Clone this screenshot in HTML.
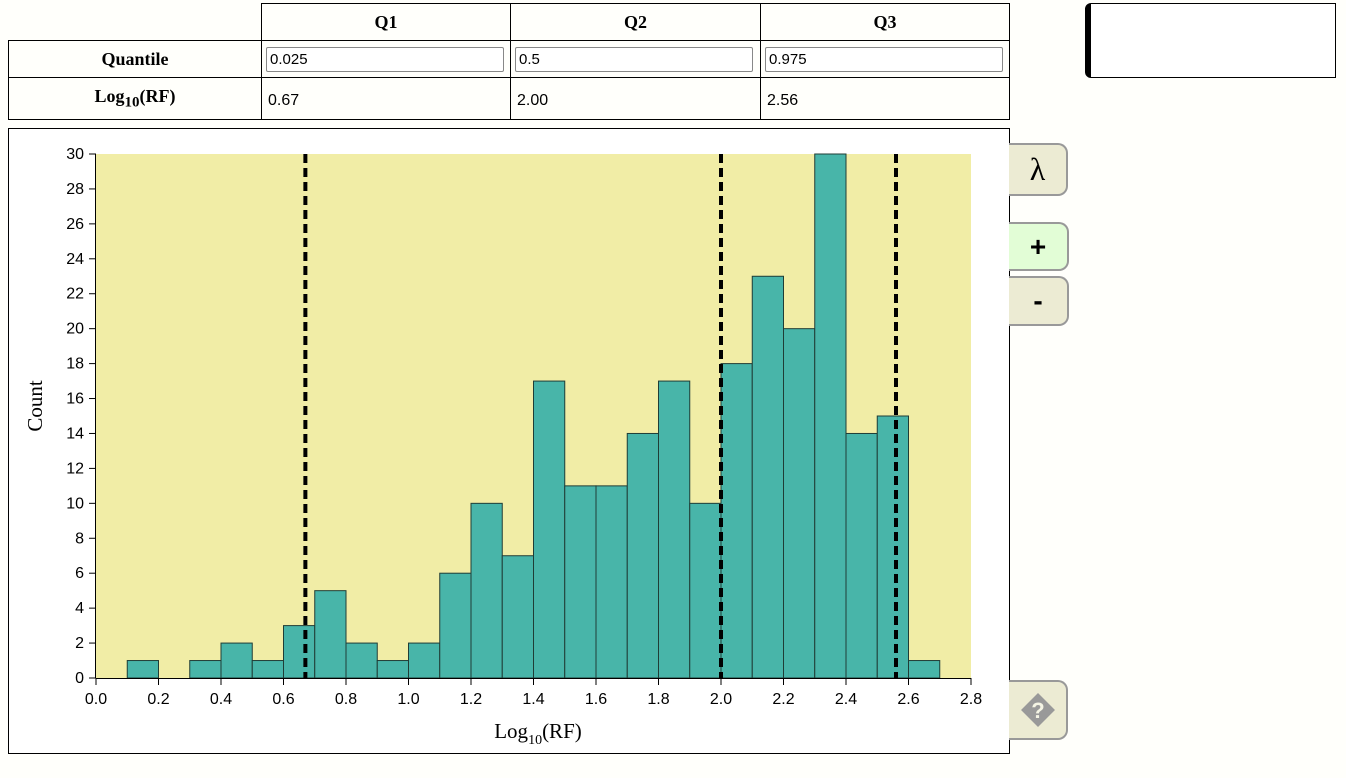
<!DOCTYPE html>
<html><head><meta charset="utf-8"><style>
body{margin:0;width:1346px;height:778px;background:#fffffb;position:relative;overflow:hidden;font-family:"Liberation Serif",serif}
.abs{position:absolute;box-sizing:border-box}
table{position:absolute;left:8px;top:3px;border-collapse:collapse;font-size:18px}
td,th{border:1px solid #000;padding:0 6px;height:36px;box-sizing:border-box}
th{font-weight:bold;text-align:center}
td.v{font-family:"Liberation Sans",sans-serif;font-size:16px;padding-top:4px}
input{width:238px;height:25px;box-sizing:border-box;font-family:"Liberation Sans",sans-serif;font-size:15px;border:1px solid #888;border-radius:2px;padding:0 3px;background:#fff}
.btn{background:#ecebd3;border:2px solid #999;border-left:none;border-radius:0 10px 10px 0;display:flex;align-items:center;justify-content:center;font-size:28px}
</style></head><body>
<table>
<tr style="height:37px"><td style="border:none;border-bottom:1px solid #000;width:253px"></td><th style="width:249px">Q1</th><th style="width:250px">Q2</th><th style="width:249px">Q3</th></tr>
<tr style="height:37px"><th>Quantile</th><td style="padding:0 4px"><input value="0.025"></td><td style="padding:0 4px"><input value="0.5"></td><td style="padding:0 4px"><input value="0.975"></td></tr>
<tr style="height:42px"><th>Log<sub>10</sub>(RF)</th><td class="v">0.67</td><td class="v">2.00</td><td class="v">2.56</td></tr>
</table>
<div class="abs" style="left:1085px;top:3px;width:251px;height:75px;border:1px solid #000;border-left:6px solid #000;border-radius:6px 0 0 6px;background:#fff"></div>
<div class="abs" style="left:8px;top:128px;width:1002px;height:626px;border:1px solid #000;background:#fff"></div>
<div class="abs btn" style="left:1009px;top:143px;width:59px;height:53px;font-family:'Liberation Serif',serif;font-size:32px">λ</div>
<div class="abs btn" style="left:1009px;top:222px;width:60px;height:49px;background:#e2fdd6;font-family:'Liberation Sans',sans-serif;font-weight:bold">+</div>
<div class="abs btn" style="left:1009px;top:276px;width:60px;height:50px;font-family:'Liberation Sans',sans-serif;font-weight:bold">-</div>
<div class="abs btn" style="left:1009px;top:680px;width:59px;height:60px"><svg width="40" height="40" viewBox="0 0 40 40"><rect x="8" y="8" width="24" height="24" transform="rotate(45 20 20)" fill="#999"/><text x="20" y="28" text-anchor="middle" font-family="Liberation Sans" font-weight="bold" font-size="22" fill="#f4f4e4">?</text></svg></div>
<svg id="chart" class="abs" style="left:0;top:0" width="1346" height="778"></svg>
<script>
const binStarts=[0.1,0.2,0.3,0.4,0.5,0.6,0.7,0.8,0.9,1.0,1.1,1.2,1.3,1.4,1.5,1.6,1.7,1.8,1.9,2.0,2.1,2.2,2.3,2.4,2.5,2.6];
const counts=[1,0,1,2,1,3,5,2,1,2,6,10,7,17,11,11,14,17,10,18,23,20,30,14,15,1];
const quantiles=[0.67,2.00,2.56];
const xTicks=[0,0.2,0.4,0.6,0.8,1.0,1.2,1.4,1.6,1.8,2.0,2.2,2.4,2.6,2.8];
const yTicks=[0,2,4,6,8,10,12,14,16,18,20,22,24,26,28,30];
const binWidth=0.1;
const X0=96,X1=971,Y0=678,Y1=154,xMax=2.8,yMax=30;
const sx=v=>X0+(X1-X0)*v/xMax, sy=v=>Y0-(Y0-Y1)*v/yMax;
const svg=document.getElementById('chart');const NS='http://www.w3.org/2000/svg';
function mk(t,a,txt){const e=document.createElementNS(NS,t);for(const k in a)e.setAttribute(k,a[k]);if(txt!=null)e.textContent=txt;svg.appendChild(e);return e;}
let e=mk('rect',{x:X0,y:Y1,width:X1-X0,height:Y0-Y1,fill:'#f1eda6'});


binStarts.forEach((b,i)=>{if(!counts[i])return;
const r=mk('rect',{x:sx(b),y:sy(counts[i]),width:sx(b+binWidth)-sx(b),height:Y0-sy(counts[i]),fill:'#48b5a9',stroke:'#1f3d36','stroke-width':1});

});
quantiles.forEach((q,i)=>{const l=mk('line',{x1:sx(q),x2:sx(q),y1:Y1,y2:Y0,stroke:'#000','stroke-width':4,'stroke-dasharray':'9,5'});

});
mk('line',{x1:X0,x2:X1,y1:Y0+0.5,y2:Y0+0.5,stroke:'#000'});
mk('line',{x1:X0-0.5,x2:X0-0.5,y1:Y1,y2:Y0,stroke:'#000'});
xTicks.forEach(t=>{mk('line',{x1:sx(t),x2:sx(t),y1:Y0,y2:Y0+7,stroke:'#000'});
const tx=mk('text',{x:sx(t),y:Y0+26,'text-anchor':'middle','font-family':'Liberation Sans','font-size':16},t.toFixed(1));

});
yTicks.forEach(t=>{mk('line',{x1:X0-7,x2:X0,y1:sy(t),y2:sy(t),stroke:'#000'});
const tx=mk('text',{x:X0-12,y:sy(t)+5,'text-anchor':'end','font-family':'Liberation Sans','font-size':16},t);

});
const xt=mk('text',{x:538,y:738,'text-anchor':'middle','font-family':'Liberation Serif','font-size':21});
xt.innerHTML='Log<tspan dy="6" font-size="14">10</tspan><tspan dy="-6">(RF)</tspan>';


const yt=mk('text',{x:42,y:406,'text-anchor':'middle','font-family':'Liberation Serif','font-size':21,transform:'rotate(-90 42 406)'},'Count');


</script>
</body></html>
